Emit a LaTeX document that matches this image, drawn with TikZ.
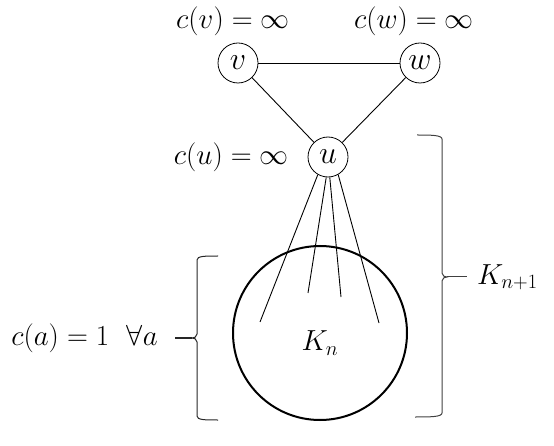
\RequirePackage{fix-cm}
\documentclass[tikz,border=0pt]{standalone}
\usepackage{amsmath}
\begin{document}
\begin{tikzpicture}[x=1pt,y=-1pt,
  vert/.style={circle,draw,line width=0.8pt,minimum size=40pt,inner sep=0pt,font=\fontsize{32}{36}\selectfont},
  lbl/.style={font=\fontsize{29}{34}\selectfont,inner sep=0pt},
  edge/.style={line width=0.9pt},
  brace/.style={line width=1pt,color=black!75}]
\useasboundingbox (0,0) rectangle (554,446);
\node[vert] (v) at (238,63) {$v$};
\node[vert] (w) at (420,63) {$w$};
\node[vert] (u) at (328,157) {$u$};
\node[lbl] (cv) at (233,21) {$c(v)=\infty$};
\node[lbl] (cw) at (414,21) {$c(w)=\infty$};
\node[lbl,anchor=east] (cu) at (289,157) {$c(u)=\infty$};
\node[circle,draw,line width=2pt,minimum size=174pt,inner sep=0pt] (Kn) at (320,333) {};
\node[lbl] (knl) at (320,343) {$K_n$};
\draw[edge] (v) -- (w);
\draw[edge] (v) -- (u);
\draw[edge] (w) -- (u);
\coordinate (e1) at (260,322);
\coordinate (e2) at (308,293);
\coordinate (e3) at (341,297);
\coordinate (e4) at (379,323);
\draw[edge] (u.-120) -- (e1);
\draw[edge] (u.-95) -- (e2);
\draw[edge] (u.-85) -- (e3);
\draw[edge] (u.-60) -- (e4);
% left brace
\coordinate (lt) at (192,338);
\coordinate (le) at (175,338);
\draw[brace,color=black!85] (218,256) .. controls (205,256) and (197,256) .. (197,260) -- (197,334) .. controls (197,337) and (194,338) .. (lt) .. controls (194,338) and (197,339) .. (197,342) -- (197,416) .. controls (197,420) and (205,420) .. (218,420);
\draw[brace,line width=1.6pt,color=black!85] (lt) -- (le);
\node[lbl,anchor=east] (ca) at (158,338) {$c(a)=1\ \ \forall a$};
% right brace
\coordinate (rt) at (447,277);
\coordinate (re) at (467,277);
\draw[brace] (417,135) .. controls (430,135) and (442,135) .. (442,139) -- (442,273) .. controls (442,276) and (445,277) .. (rt) .. controls (445,277) and (442,278) .. (442,281) -- (442,413) .. controls (442,417) and (430,417) .. (415,417);
\draw[brace] (rt) -- (re);
\node[lbl,anchor=west] (kn1) at (477,277) {$K_{n+1}$};
\end{tikzpicture}
\end{document}
